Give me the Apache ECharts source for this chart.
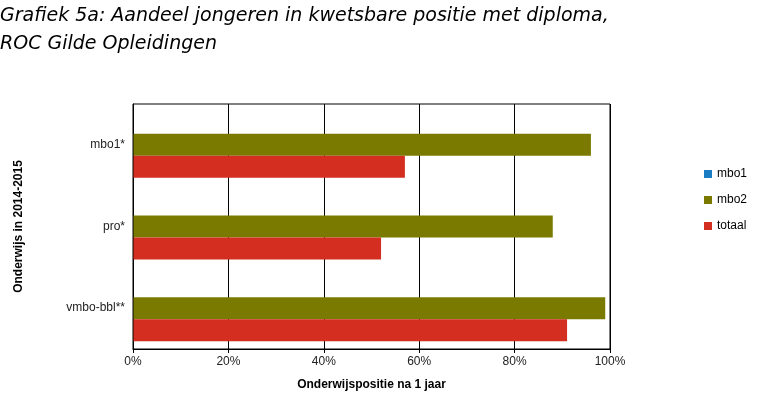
<!DOCTYPE html>
<html>
<head>
<meta charset="utf-8">
<script src="https://cdn.jsdelivr.net/npm/echarts@6/dist/echarts.min.js"></script>
<style>
  html, body { margin: 0; padding: 0; background: #fff; }
  #chart { width: 760px; height: 400px; }
</style>
</head>
<body>
<div id="chart"></div>
<script>
// categories top to bottom
const categories = ['mbo1*', 'pro*', 'vmbo-bbl**'];
const mbo1 = [null, null, null];
const mbo2 = [96, 88, 99];
const totaal = [57, 52, 91];
const xTicks = [0, 20, 40, 60, 80, 100];

const chart = echarts.init(document.getElementById('chart'));

const option = {
    animation: false,
    title: {
        text: 'Grafiek 5a: Aandeel jongeren in kwetsbare positie met diploma,\nROC Gilde Opleidingen',
        left: 0,
        top: 2,
        padding: 0,
        textStyle: {
            fontFamily: 'DejaVu Sans',
            fontStyle: 'italic',
            fontWeight: 'normal',
            fontSize: 19,
            lineHeight: 28,
            color: '#000'
        }
    },
    legend: {
        orient: 'vertical',
        left: 699,
        top: 163,
        itemWidth: 8,
        itemHeight: 8,
        itemGap: 14,
        icon: 'rect',
        textStyle: { fontFamily: 'Liberation Sans', fontSize: 12, color: '#000' },
        data: ['mbo1', 'mbo2', 'totaal']
    },
    grid: {
        left: 133,
        right: 150,
        top: 104,
        bottom: 51,
        containLabel: false
    },
    xAxis: {
        type: 'value',
        min: 0,
        max: 100,
        interval: 20,
        name: 'Onderwijspositie na 1 jaar',
        nameLocation: 'middle',
        nameGap: 30,
        nameTextStyle: { fontFamily: 'Liberation Sans', fontWeight: 'bold', fontSize: 12, color: '#000' },
        axisLine: { show: true, lineStyle: { color: '#000', width: 1 } },
        axisTick: { show: true, length: 4, lineStyle: { color: '#000' } },
        axisLabel: {
            fontFamily: 'Liberation Sans',
            fontSize: 12,
            color: '#222',
            margin: 7,
            formatter: v => xTicks.includes(v) ? v + '%' : ''
        },
        splitLine: { show: true, lineStyle: { color: '#000', width: 1 } }
    },
    yAxis: {
        type: 'category',
        inverse: true,
        data: categories,
        name: 'Onderwijs in 2014-2015',
        nameLocation: 'middle',
        nameGap: 108,
        nameRotate: 90,
        nameTextStyle: { fontFamily: 'Liberation Sans', fontWeight: 'bold', fontSize: 12, color: '#000' },
        axisLine: { show: true, lineStyle: { color: '#000', width: 1 } },
        axisTick: { show: false },
        axisLabel: {
            fontFamily: 'Liberation Sans',
            fontSize: 12,
            color: '#222',
            margin: 8,
            verticalAlign: 'middle',
            padding: [2, 0, 0, 0]
        }
    },
    series: [
        {
            name: 'mbo1', type: 'bar', data: mbo1,
            barWidth: 22, barGap: '0%', barCategoryGap: '20%',
            itemStyle: { color: '#1a7dc4' }
        },
        {
            name: 'mbo2', type: 'bar', data: mbo2,
            barWidth: 22, barGap: '0%',
            itemStyle: { color: '#7a7a00' }
        },
        {
            name: 'totaal', type: 'bar', data: totaal,
            barWidth: 22, barGap: '0%',
            itemStyle: { color: '#d42e20' }
        }
    ],
    graphic: [
        {
            type: 'rect',
            shape: { x: 133, y: 104, width: 477, height: 245 },
            style: { fill: 'none', stroke: '#000', lineWidth: 1 },
            silent: true,
            z: 10
        }
    ]
};

chart.setOption(option);
</script>
</body>
</html>
